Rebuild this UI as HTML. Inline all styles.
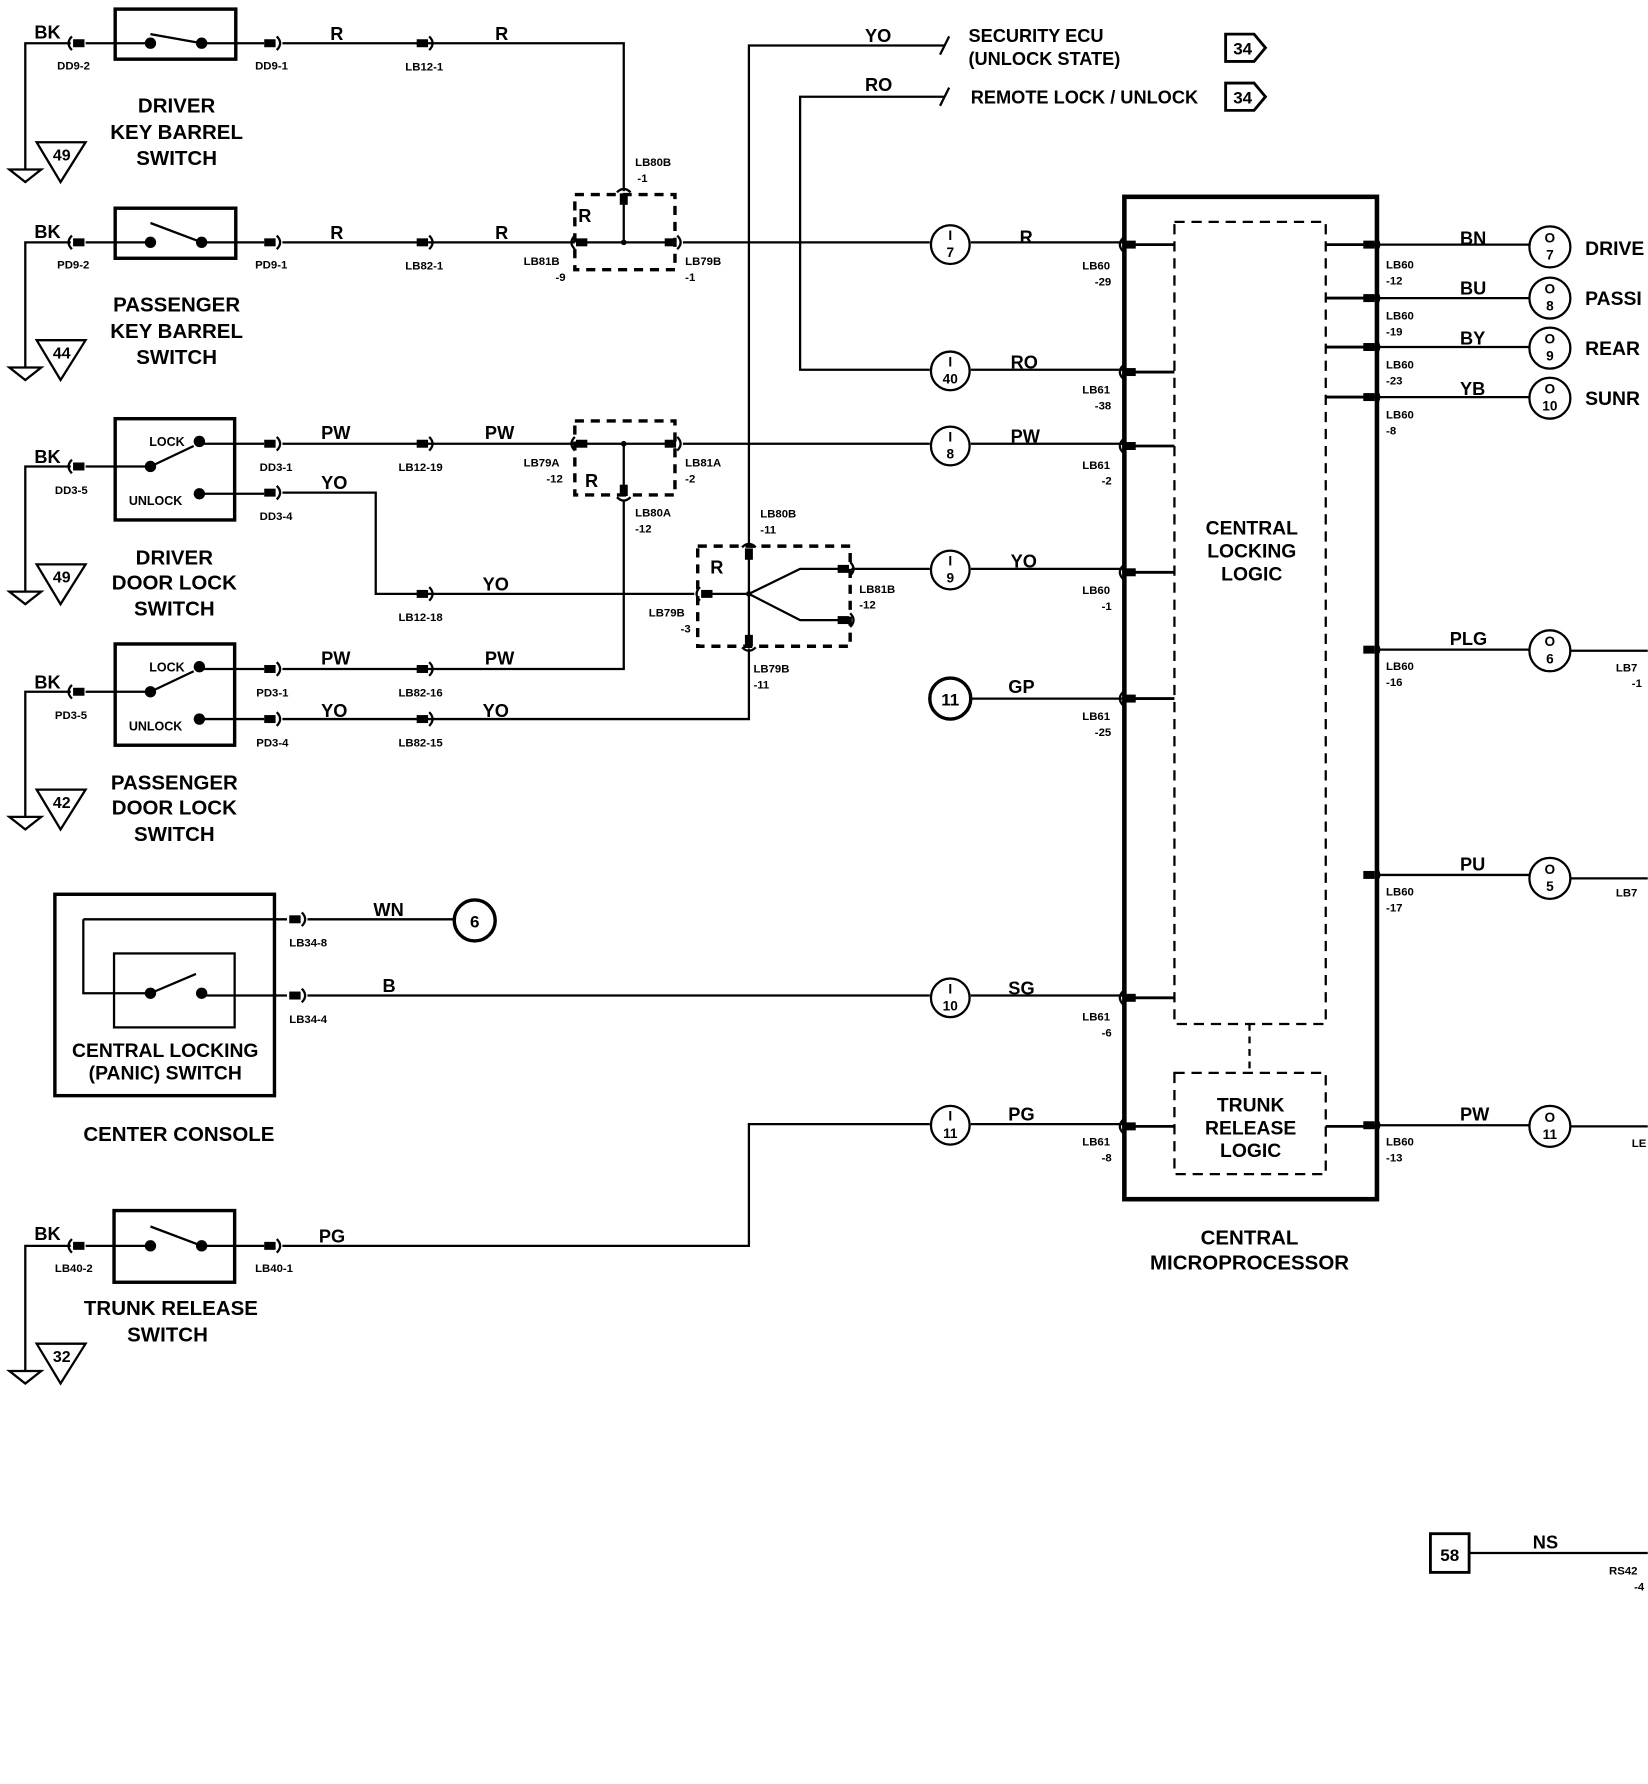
<!DOCTYPE html>
<html><head><meta charset="utf-8"><style>
html,body{margin:0;padding:0;background:#fff}
svg{display:block}
text{font-family:"Liberation Sans",sans-serif;font-weight:bold;fill:#000}
.w{font-size:16px}
.s{font-size:10px}
.t{font-size:18px}
.n{font-size:16px;font-weight:normal}
</style></head><body>
<svg width="1648" height="1784" viewBox="0 0 1448 1568" xmlns="http://www.w3.org/2000/svg">
<defs>
<g id="cR"><rect x="-8" y="-3.5" width="10" height="7" fill="#000"/><path d="M3,-6 Q9,0 3,6" fill="none" stroke="#000" stroke-width="2"/></g>
<g id="cL"><rect x="-2" y="-3.5" width="10" height="7" fill="#000"/><path d="M-3,-6 Q-9,0 -3,6" fill="none" stroke="#000" stroke-width="2"/></g>
<g id="cU"><rect x="-3.5" y="-2" width="7" height="10" fill="#000"/><path d="M-6,-3 Q0,-9 6,-3" fill="none" stroke="#000" stroke-width="2"/></g>
<g id="cD"><rect x="-3.5" y="-8" width="7" height="10" fill="#000"/><path d="M-6,3 Q0,9 6,3" fill="none" stroke="#000" stroke-width="2"/></g>
<g id="gnd"><path d="M-14,0 L14,0 L0,11 Z" fill="none" stroke="#000" stroke-width="2"/></g>
<g id="ref"><path d="M0,0 L43,0 L21,35 Z" fill="none" stroke="#000" stroke-width="2"/></g>
</defs>
<g fill="none" stroke="#000" stroke-width="2">
<!-- switch boxes -->
<rect x="101" y="8" width="106" height="44" stroke-width="3"/>
<rect x="101" y="183" width="106" height="44" stroke-width="3"/>
<rect x="101" y="368" width="105" height="89" stroke-width="3"/>
<rect x="101" y="566" width="105" height="89" stroke-width="3"/>
<rect x="48" y="786" width="193" height="177" stroke-width="3"/>
<rect x="100" y="838" width="106" height="65" stroke-width="2"/>
<rect x="100" y="1064" width="106" height="63" stroke-width="3"/>
<!-- key barrel switches -->
<path d="M75,38 L132,38 M177,38 L232,38 M132,30 L177,38"/>
<path d="M75,213 L132,213 M177,213 L232,213 M132,196 L177,213"/>
<path d="M75,410 L132,410 M132,410 L170,392 M175,390 L232,390 M175,434 L232,434"/>
<path d="M75,608 L132,608 M132,608 L170,590 M175,588 L232,588 M175,632 L232,632"/>
<path d="M73,808 L252,808 M73,808 L73,873 L132,873 M132,873 L172,856 M177,875 L252,875"/>
<path d="M75,1095 L132,1095 M177,1095 L232,1095 M132,1078 L177,1095"/>
<!-- grounds -->
<path d="M62,38 L22,38 L22,149 M62,213 L22,213 L22,323 M62,410 L22,410 L22,520 M62,608 L22,608 L22,718 M62,1095 L22,1095 L22,1205"/>
<!-- row1 -->
<path d="M248,38 L548,38 L548,168" />
<path d="M248,213 L505,213"/>
<rect x="505" y="171" width="88" height="66" stroke-dasharray="8,6" stroke-width="3"/>
<path d="M510,213 L593,213 M548,178 L548,213"/>
<path d="M600,213 L817,213 M853,213 L988,213"/>
<!-- YO/RO top -->
<path d="M658,480 L658,40 L830,40 M826,48 L834,32"/>
<path d="M830,85 L703,85 L703,325 L817,325 M853,325 L988,325 M826,93 L834,77"/>
<!-- PW row -->
<path d="M248,390 L505,390"/>
<rect x="505" y="370" width="88" height="65" stroke-dasharray="8,6" stroke-width="3"/>
<path d="M510,390 L593,390 M548,390 L548,428"/>
<path d="M600,390 L817,390 M853,390 L988,390"/>
<path d="M548,440 L548,588 L248,588"/>
<!-- YO row -->
<path d="M248,433 L330,433 L330,522 L610,522"/>
<rect x="613" y="480" width="134" height="88" stroke-dasharray="8,6" stroke-width="3"/>
<path d="M620,522 L658,522 L703,500 L740,500 M658,522 L703,545 L740,545 M658,488 L658,560"/>
<path d="M748,500 L817,500 M853,500 L988,500"/>
<path d="M658,570 L658,632 L248,632"/>
<!-- GP -->
<path d="M853,614 L988,614"/>
<path d="M270,808 L400,808 M270,875 L817,875 M853,875 L988,875"/>
<path d="M248,1095 L658,1095 L658,988 L817,988 M853,988 L988,988"/>
<!-- circles -->
<circle cx="835" cy="215" r="17"/><circle cx="835" cy="326" r="17"/><circle cx="835" cy="392" r="17"/><circle cx="835" cy="501" r="17"/><circle cx="835" cy="877" r="17"/><circle cx="835" cy="989" r="17"/>
<circle cx="835" cy="614" r="18" stroke-width="3"/><circle cx="417" cy="809" r="18" stroke-width="3"/>
<circle cx="1362" cy="217" r="18"/><circle cx="1362" cy="262" r="18"/><circle cx="1362" cy="306" r="18"/><circle cx="1362" cy="350" r="18"/><circle cx="1362" cy="572" r="18"/><circle cx="1362" cy="772" r="18"/><circle cx="1362" cy="990" r="18"/>
<!-- microprocessor -->
<rect x="988" y="173" width="222" height="881" stroke-width="4"/>
<rect x="1032" y="195" width="133" height="705" stroke-dasharray="9,6"/>
<rect x="1032" y="943" width="133" height="89" stroke-dasharray="9,6"/>
<path d="M1098,900 L1098,943" stroke-dasharray="6,5"/>
<path d="M988,215 L1032,215 M988,327 L1032,327 M988,392 L1032,392 M988,503 L1032,503 M988,614 L1032,614 M988,877 L1032,877 M988,990 L1032,990" stroke-width="2.5"/>
<path d="M1165,215 L1210,215 M1165,262 L1210,262 M1165,305 L1210,305 M1165,349 L1210,349 M1165,990 L1210,990" stroke-width="2.5"/>
<path d="M1210,215 L1344,215 M1210,262 L1344,262 M1210,305 L1344,305 M1210,349 L1344,349 M1210,571 L1344,571 M1210,769 L1344,769 M1210,989 L1344,989"/>
<path d="M1380,572 L1448,572 M1380,772 L1448,772 M1380,990 L1448,990"/>
<!-- arrow boxes -->
<path d="M1077,30 L1102,30 L1112,42 L1102,54 L1077,54 Z" stroke-width="2.5"/>
<path d="M1077,73 L1102,73 L1112,85 L1102,97 L1077,97 Z" stroke-width="2.5"/>
<rect x="1257" y="1348" width="34" height="34" stroke-width="2.5"/>
<path d="M1291,1365 L1448,1365"/>
</g>
<!-- dots -->
<g fill="#000">
<circle cx="132" cy="38" r="5"/><circle cx="177" cy="38" r="5"/>
<circle cx="132" cy="213" r="5"/><circle cx="177" cy="213" r="5"/>
<circle cx="132" cy="410" r="5"/><circle cx="175" cy="388" r="5"/><circle cx="175" cy="434" r="5"/>
<circle cx="132" cy="608" r="5"/><circle cx="175" cy="586" r="5"/><circle cx="175" cy="632" r="5"/>
<circle cx="132" cy="873" r="5"/><circle cx="177" cy="873" r="5"/>
<circle cx="132" cy="1095" r="5"/><circle cx="177" cy="1095" r="5"/>
<circle cx="548" cy="213" r="2.5"/><circle cx="548" cy="390" r="2.5"/><circle cx="658" cy="522" r="2.5"/>
</g>
<!-- connectors -->
<use href="#cL" x="66" y="38"/><use href="#cR" x="240" y="38"/><use href="#cR" x="374" y="38"/>
<use href="#cL" x="66" y="213"/><use href="#cR" x="240" y="213"/><use href="#cR" x="374" y="213"/>
<use href="#cL" x="66" y="410"/><use href="#cR" x="240" y="390"/><use href="#cR" x="240" y="433"/><use href="#cR" x="374" y="390"/><use href="#cR" x="374" y="522"/>
<use href="#cL" x="66" y="608"/><use href="#cR" x="240" y="588"/><use href="#cR" x="240" y="632"/><use href="#cR" x="374" y="588"/><use href="#cR" x="374" y="632"/>
<use href="#cR" x="262" y="808"/><use href="#cR" x="262" y="875"/>
<use href="#cL" x="66" y="1095"/><use href="#cR" x="240" y="1095"/>
<use href="#cU" x="548" y="172"/><use href="#cL" x="508" y="213"/><use href="#cR" x="592" y="213"/>
<use href="#cL" x="508" y="390"/><use href="#cR" x="592" y="390"/><use href="#cD" x="548" y="434"/>
<use href="#cL" x="618" y="522"/><use href="#cU" x="658" y="484"/><use href="#cD" x="658" y="566"/><use href="#cR" x="744" y="500"/><use href="#cR" x="744" y="545"/>
<use href="#cL" x="990" y="215"/><use href="#cL" x="990" y="327"/><use href="#cL" x="990" y="392"/><use href="#cL" x="990" y="503"/><use href="#cL" x="990" y="614"/><use href="#cL" x="990" y="877"/><use href="#cL" x="990" y="990"/>
<use href="#cR" x="1206" y="215"/><use href="#cR" x="1206" y="262"/><use href="#cR" x="1206" y="305"/><use href="#cR" x="1206" y="349"/><use href="#cR" x="1206" y="571"/><use href="#cR" x="1206" y="769"/><use href="#cR" x="1206" y="989"/>
<!-- grounds -->
<use href="#gnd" x="22" y="149"/><use href="#gnd" x="22" y="323"/><use href="#gnd" x="22" y="520"/><use href="#gnd" x="22" y="718"/><use href="#gnd" x="22" y="1205"/>
<use href="#ref" x="32" y="125"/><use href="#ref" x="32" y="299"/><use href="#ref" x="32" y="496"/><use href="#ref" x="32" y="694"/><use href="#ref" x="32" y="1181"/>
<g class="s" text-anchor="middle" style="font-size:14px">
<text x="54" y="141">49</text><text x="54" y="315">44</text><text x="54" y="512">49</text><text x="54" y="710">42</text><text x="54" y="1197">32</text>
</g>
<!-- wire labels -->
<g class="w">
<text x="30" y="34">BK</text><text x="30" y="209">BK</text><text x="30" y="407">BK</text><text x="30" y="605">BK</text><text x="30" y="1090">BK</text>
<text x="290" y="35">R</text><text x="435" y="35">R</text><text x="290" y="210">R</text><text x="435" y="210">R</text>
<text x="282" y="386">PW</text><text x="426" y="386">PW</text><text x="282" y="430">YO</text><text x="424" y="519">YO</text>
<text x="282" y="584">PW</text><text x="426" y="584">PW</text><text x="282" y="630">YO</text><text x="424" y="630">YO</text>
<text x="328" y="805">WN</text><text x="336" y="872">B</text><text x="280" y="1092">PG</text>
<text x="760" y="37">YO</text><text x="760" y="80">RO</text>
<text x="896" y="214">R</text><text x="888" y="324">RO</text><text x="888" y="389">PW</text><text x="888" y="499">YO</text><text x="886" y="609">GP</text><text x="886" y="874">SG</text><text x="886" y="985">PG</text>
<text x="1283" y="215">BN</text><text x="1283" y="259">BU</text><text x="1283" y="303">BY</text><text x="1283" y="347">YB</text><text x="1274" y="567">PLG</text><text x="1283" y="765">PU</text><text x="1283" y="985">PW</text>
<text x="1347" y="1361">NS</text>
<text x="508" y="195">R</text><text x="514" y="428">R</text><text x="624" y="504">R</text>
</g>
<g class="n">
<text x="851" y="37">SECURITY ECU</text><text x="851" y="57">(UNLOCK STATE)</text><text x="853" y="91">REMOTE LOCK / UNLOCK</text>
</g>
<g class="w" text-anchor="middle" style="font-size:15px">
<text x="1092" y="48">34</text><text x="1092" y="91">34</text><text x="1274" y="1372">58</text>
<text x="835" y="620">11</text><text x="417" y="815">6</text>
</g>
<!-- circle contents -->
<g class="s" text-anchor="middle" style="font-size:12px">
<text x="835" y="211">I</text><text x="835" y="226">7</text>
<text x="835" y="322">I</text><text x="835" y="337">40</text>
<text x="835" y="388">I</text><text x="835" y="403">8</text>
<text x="835" y="497">I</text><text x="835" y="512">9</text>
<text x="835" y="873">I</text><text x="835" y="888">10</text>
<text x="835" y="985">I</text><text x="835" y="1000">11</text>
<text x="1362" y="213">O</text><text x="1362" y="228">7</text>
<text x="1362" y="258">O</text><text x="1362" y="273">8</text>
<text x="1362" y="302">O</text><text x="1362" y="317">9</text>
<text x="1362" y="346">O</text><text x="1362" y="361">10</text>
<text x="1362" y="568">O</text><text x="1362" y="583">6</text>
<text x="1362" y="768">O</text><text x="1362" y="783">5</text>
<text x="1362" y="986">O</text><text x="1362" y="1001">11</text>
</g>
<!-- small connector labels -->
<g class="s">
<text x="50" y="61">DD9-2</text><text x="224" y="61">DD9-1</text><text x="356" y="62">LB12-1</text>
<text x="50" y="236">PD9-2</text><text x="224" y="236">PD9-1</text><text x="356" y="237">LB82-1</text>
<text x="48" y="434">DD3-5</text><text x="228" y="414">DD3-1</text><text x="228" y="457">DD3-4</text><text x="350" y="414">LB12-19</text><text x="350" y="546">LB12-18</text>
<text x="48" y="632">PD3-5</text><text x="225" y="612">PD3-1</text><text x="225" y="656">PD3-4</text><text x="350" y="612">LB82-16</text><text x="350" y="656">LB82-15</text>
<text x="254" y="832">LB34-8</text><text x="254" y="899">LB34-4</text>
<text x="48" y="1118">LB40-2</text><text x="224" y="1118">LB40-1</text>
<text x="558" y="146">LB80B</text><text x="560" y="160">-1</text>
<text x="460" y="233">LB81B</text><text x="488" y="247">-9</text>
<text x="602" y="233">LB79B</text><text x="602" y="247">-1</text>
<text x="460" y="410">LB79A</text><text x="480" y="424">-12</text>
<text x="602" y="410">LB81A</text><text x="602" y="424">-2</text>
<text x="558" y="454">LB80A</text><text x="558" y="468">-12</text>
<text x="668" y="455">LB80B</text><text x="668" y="469">-11</text>
<text x="570" y="542">LB79B</text><text x="598" y="556">-3</text>
<text x="755" y="521">LB81B</text><text x="755" y="535">-12</text>
<text x="662" y="591">LB79B</text><text x="662" y="605">-11</text>
<text x="951" y="237">LB60</text><text x="962" y="251">-29</text>
<text x="951" y="346">LB61</text><text x="962" y="360">-38</text>
<text x="951" y="412">LB61</text><text x="968" y="426">-2</text>
<text x="951" y="522">LB60</text><text x="968" y="536">-1</text>
<text x="951" y="633">LB61</text><text x="962" y="647">-25</text>
<text x="951" y="897">LB61</text><text x="968" y="911">-6</text>
<text x="951" y="1007">LB61</text><text x="968" y="1021">-8</text>
<text x="1218" y="236">LB60</text><text x="1218" y="250">-12</text>
<text x="1218" y="281">LB60</text><text x="1218" y="295">-19</text>
<text x="1218" y="324">LB60</text><text x="1218" y="338">-23</text>
<text x="1218" y="368">LB60</text><text x="1218" y="382">-8</text>
<text x="1218" y="589">LB60</text><text x="1218" y="603">-16</text>
<text x="1218" y="787">LB60</text><text x="1218" y="801">-17</text>
<text x="1218" y="1007">LB60</text><text x="1218" y="1021">-13</text>
<text x="1420" y="590">LB7</text><text x="1434" y="604">-1</text>
<text x="1420" y="788">LB7</text>
<text x="1434" y="1008">LE</text>
<text x="1414" y="1384">RS42</text><text x="1436" y="1398">-4</text>
</g>
<g class="s" style="font-size:11px;font-weight:normal">
<text x="131" y="392">LOCK</text><text x="113" y="444">UNLOCK</text>
<text x="131" y="590">LOCK</text><text x="113" y="642">UNLOCK</text>
</g>
<!-- titles -->
<g class="t" text-anchor="middle">
<text x="155" y="99">DRIVER</text><text x="155" y="122">KEY BARREL</text><text x="155" y="145">SWITCH</text>
<text x="155" y="274">PASSENGER</text><text x="155" y="297">KEY BARREL</text><text x="155" y="320">SWITCH</text>
<text x="153" y="496">DRIVER</text><text x="153" y="518">DOOR LOCK</text><text x="153" y="541">SWITCH</text>
<text x="153" y="694">PASSENGER</text><text x="153" y="716">DOOR LOCK</text><text x="153" y="739">SWITCH</text>
<text x="157" y="1003">CENTER CONSOLE</text>
<text x="150" y="1156">TRUNK RELEASE</text><text x="147" y="1179">SWITCH</text>
<text x="1098" y="1094">CENTRAL</text><text x="1098" y="1116">MICROPROCESSOR</text>
</g>
<g class="n" text-anchor="middle" style="font-size:17px">
<text x="145" y="929">CENTRAL LOCKING</text><text x="145" y="949">(PANIC) SWITCH</text>
<text x="1100" y="470">CENTRAL</text><text x="1100" y="490">LOCKING</text><text x="1100" y="510">LOGIC</text>
<text x="1099" y="977">TRUNK</text><text x="1099" y="997">RELEASE</text><text x="1099" y="1017">LOGIC</text>
</g>
<g class="t" style="font-size:17px">
<text x="1393" y="224">DRIVE</text><text x="1393" y="268">PASSI</text><text x="1393" y="312">REAR</text><text x="1393" y="356">SUNR</text>
</g>
</svg>
</body></html>
